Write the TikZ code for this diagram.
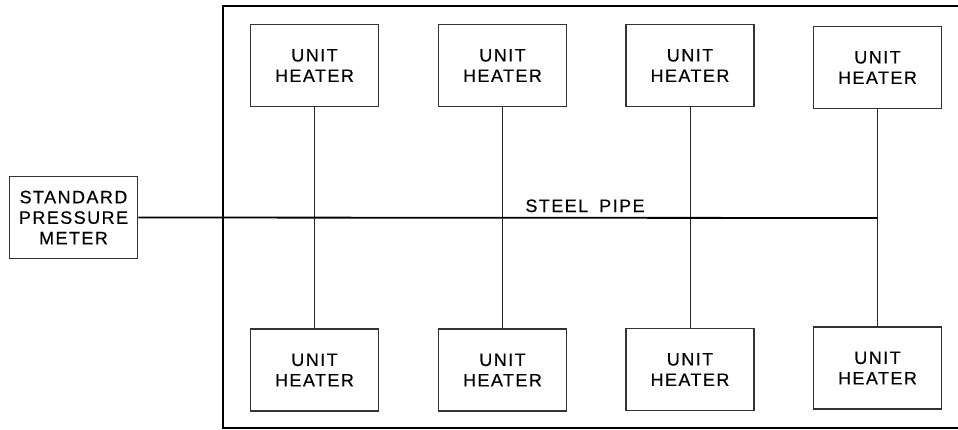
\documentclass[tikz,border=0pt]{standalone}
\usepackage{fontspec}
\setmainfont[LetterSpace=8,FakeBold=0.4]{Liberation Sans}
\begin{document}
\begin{tikzpicture}[x=1pt,y=-1pt,
  unitbox/.style={draw=black!80,line width=1.6pt,minimum width=128pt,minimum height=82pt,align=center,inner sep=0pt,font=\fontsize{18}{20.5}\selectfont},
  pipe/.style={line width=1.8pt,black},
  riser/.style={line width=0.9pt,black!85},
  lbl/.style={font=\fontsize{18}{21}\selectfont,inner sep=0pt}]
\useasboundingbox (0,0) rectangle (958,429);
\clip (0,0) rectangle (958,429);
\draw[line width=1.8pt] (223,6) rectangle (975,428);
\node[unitbox] (meter) at (73.5,217.5) {STANDARD\\PRESSURE\\METER};
\node[unitbox] (t1) at (314.5,65.5) {UNIT\\HEATER};
\node[unitbox] (t2) at (502.5,65.5) {UNIT\\HEATER};
\node[unitbox] (t3) at (690,65.5) {UNIT\\HEATER};
\node[unitbox] (t4) at (877.5,67.5) {UNIT\\HEATER};
\node[unitbox] (b1) at (314.5,370) {UNIT\\HEATER};
\node[unitbox] (b2) at (502.5,370) {UNIT\\HEATER};
\node[unitbox] (b3) at (690,369.5) {UNIT\\HEATER};
\node[unitbox] (b4) at (877.5,368) {UNIT\\HEATER};
\coordinate (pend) at (877.5,218);
\draw[riser] (t1) -- (b1);
\draw[riser] (t2) -- (b2);
\draw[riser] (t3) -- (b3);
\draw[riser] (t4) -- (b4);
\draw[pipe] (meter.east) -- (pend);
\node[lbl,anchor=base] (sp) at (585,212) {STEEL\hspace{11pt}PIPE};
\end{tikzpicture}
\end{document}
